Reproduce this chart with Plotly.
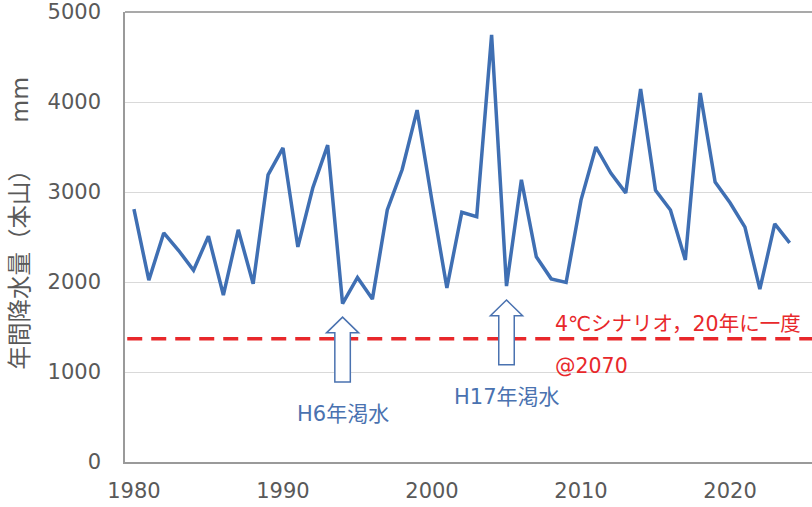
import plotly.graph_objects as go

# ---- data ----
years = list(range(1980, 2025))
rainfall = [2810, 2020, 2545, 2350, 2130, 2510, 1855, 2580, 1980, 3190,
            3490, 2390, 3045, 3520, 1760, 2050, 1810, 2800, 3250, 3910,
            2900, 1935, 2775, 2725, 4745, 1955, 3135, 2280, 2035, 1995,
            2910, 3500, 3210, 2990, 4145, 3020, 2800, 2245, 4100, 3110,
            2880, 2610, 1920, 2645, 2435]

scenario_value = 1370
scenario_label = "4℃シナリオ，20年に一度"
scenario_label2 = "@2070"

drought_years = [1994, 2005]
drought_labels = ["H6年渇水", "H17年渇水"]
arrow_tip = [1610, 1800]
arrow_base = [890, 1080]
label_value = [535, 720]

x_tick_vals = [1980, 1990, 2000, 2010, 2020]
y_tick_vals = [0, 1000, 2000, 3000, 4000, 5000]
y_title = "年間降水量（本山）　　mm"

# ---- style ----
BLUE = "#3f6fb3"
RED = "#e8282b"
GRAY_TXT = "#595959"
FONT = "DejaVu Sans, Noto Sans CJK JP, sans-serif"
XR = [1979.4, 2025.5]

fig = go.Figure()

fig.add_trace(go.Scatter(
    x=[XR[0] + 0.15, XR[1]], y=[scenario_value, scenario_value],
    mode="lines", line=dict(color=RED, width=3.5, dash="15px,9px"),
    hoverinfo="skip", showlegend=False))

fig.add_trace(go.Scatter(
    x=years, y=rainfall, mode="lines",
    line=dict(color=BLUE, width=3.5), showlegend=False))

shapes = []
# top border at 5000
shapes.append(dict(type="line", xref="paper", yref="paper", x0=0, x1=1,
                   y0=1, y1=1, line=dict(color="#8c8c8c", width=1.5)))
hw_shaft = 0.52
hw_head = 1.08
head_h = 175
for yr, tip, base in zip(drought_years, arrow_tip, arrow_base):
    hb = tip - head_h
    path = (f"M {yr - hw_shaft},{base} L {yr - hw_shaft},{hb} L {yr - hw_head},{hb} "
            f"L {yr},{tip} L {yr + hw_head},{hb} L {yr + hw_shaft},{hb} "
            f"L {yr + hw_shaft},{base} Z")
    shapes.append(dict(type="path", path=path, xref="x", yref="y",
                       fillcolor="white", line=dict(color="#4a72b0", width=1.5),
                       layer="above"))

annotations = []
for yr, lab, lv in zip(drought_years, drought_labels, label_value):
    annotations.append(dict(x=yr, y=lv, xref="x", yref="y", text=lab,
                            showarrow=False, xanchor="center", yanchor="middle",
                            font=dict(family=FONT, size=21, color="#4a72b0")))

annotations.append(dict(x=2008.15, y=1535, xref="x", yref="y", text=scenario_label,
                        showarrow=False, xanchor="left", yanchor="middle",
                        font=dict(family=FONT, size=20.5, color=RED)))
annotations.append(dict(x=2008.15, y=1070, xref="x", yref="y", text=scenario_label2,
                        showarrow=False, xanchor="left", yanchor="middle",
                        font=dict(family=FONT, size=20.5, color=RED)))
annotations.append(dict(x=-0.153, y=0.532, xref="paper", yref="paper", text=y_title,
                        showarrow=False, textangle=-90, xanchor="center", yanchor="middle",
                        font=dict(family=FONT, size=23.5, color=GRAY_TXT)))

fig.update_layout(
    width=812, height=507,
    margin=dict(l=125, r=0, t=12, b=45, autoexpand=False),
    paper_bgcolor="white", plot_bgcolor="white",
    font=dict(family=FONT, size=21, color=GRAY_TXT),
    shapes=shapes, annotations=annotations,
    xaxis=dict(range=XR, tickvals=x_tick_vals, showgrid=False, zeroline=False,
               automargin=False,
               showline=True, linecolor="#9a9a9a", linewidth=1.5, ticks="",
               ticklabelstandoff=9, tickfont=dict(size=21, color=GRAY_TXT)),
    yaxis=dict(range=[0, 5000], tickvals=y_tick_vals, showgrid=True,
               automargin=False, ticklabeloverflow="allow",
               gridcolor="#d9d9d9", gridwidth=1, zeroline=False,
               showline=True, linecolor="#9a9a9a", linewidth=1.5, ticks="",
               ticklabelstandoff=18, tickfont=dict(size=21, color=GRAY_TXT)),
)

# remove the page's default 8px body margin so the figure sits at the window corner
fig.write_html("out.html", config={"displayModeBar": False},
               post_script="document.body.style.margin='0';document.body.style.padding='0';")
